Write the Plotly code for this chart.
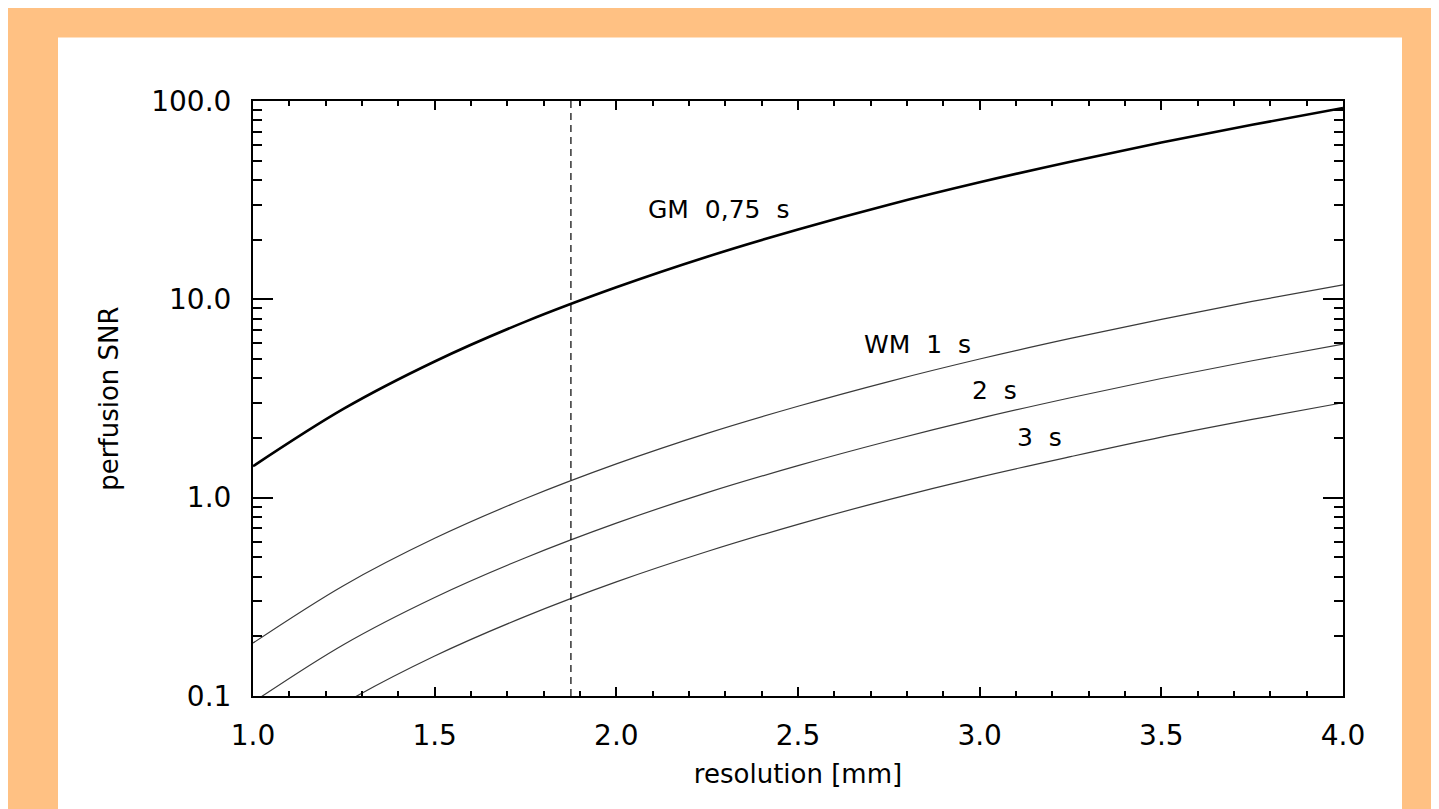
import math
import plotly.graph_objects as go

# ---- data ----
resolution = [1.0, 1.25, 1.5, 1.75, 2.0, 2.25, 2.5, 2.75, 3.0, 3.25, 3.5, 3.75, 4.0]
snr_gm_075 = [1.44, 2.81, 4.86, 7.72, 11.5, 16.4, 22.5, 30.0, 38.9, 49.4, 61.7, 75.9, 92.2]
snr_wm_1 = [0.185, 0.361, 0.624, 0.99, 1.48, 2.11, 2.89, 3.85, 5.0, 6.35, 7.93, 9.76, 11.84]
snr_wm_2 = [0.093, 0.182, 0.314, 0.498, 0.744, 1.06, 1.45, 1.93, 2.51, 3.19, 3.99, 4.90, 5.95]
snr_wm_3 = [0.047, 0.0918, 0.159, 0.252, 0.376, 0.535, 0.734, 0.978, 1.27, 1.61, 2.02, 2.48, 3.01]

ref_resolution = [1.875, 1.875]
ref_snr = [0.1, 100.0]

x_ticks = [1.0, 1.5, 2.0, 2.5, 3.0, 3.5, 4.0]
x_tick_labels = ["1.0", "1.5", "2.0", "2.5", "3.0", "3.5", "4.0"]
y_ticks = [0.1, 1.0, 10.0, 100.0]
y_tick_labels = ["0.1", "1.0", "10.0", "100.0"]

curve_labels = ["GM  0,75  s", "WM  1  s", "2  s", "3  s"]
curve_label_x = [2.28, 2.83, 3.04, 3.165]
curve_label_y = [28.3, 5.89, 3.49, 2.0]

# ---- figure ----
FONT = "DejaVu Sans"
fig = go.Figure()

thin = dict(color="#3a3a3a", width=1.2, shape="spline")
fig.add_trace(go.Scatter(x=resolution, y=snr_gm_075, mode="lines",
                         line=dict(color="black", width=2.6, shape="spline")))
fig.add_trace(go.Scatter(x=resolution, y=snr_wm_1, mode="lines", line=thin))
fig.add_trace(go.Scatter(x=resolution, y=snr_wm_2, mode="lines", line=thin))
fig.add_trace(go.Scatter(x=resolution, y=snr_wm_3, mode="lines", line=thin))
fig.add_trace(go.Scatter(x=ref_resolution, y=ref_snr, mode="lines",
                         line=dict(color="black", width=1.2, dash="7px,5px")))

for txt, lx, ly in zip(curve_labels, curve_label_x, curve_label_y):
    fig.add_annotation(x=lx, y=math.log10(ly), xref="x", yref="y", text=txt,
                       showarrow=False, font=dict(family=FONT, size=25, color="black"))

x_minor = [round(1.0 + 0.1 * i, 1) for i in range(31)]
y_minor = [m * 10 ** e for e in (-1, 0, 1) for m in range(2, 10)]

# the page adds an 8px body margin; size the figure to fill the rest of the window
W, H = 1431, 801
ML, MR, MT, MB = 245, 96, 93, 113
PW, PH = W - ML - MR, H - MT - MB

# white panel behind the plot
fig.add_shape(type="rect", xref="paper", yref="paper",
              x0=(50 - ML) / PW, x1=(1394 - ML) / PW,
              y0=-0.4, y1=(H - MB - 29.5) / PH,
              fillcolor="white", line=dict(width=0), layer="below")

axis_common = dict(showline=True, linewidth=2, linecolor="black", mirror="ticks",
                   ticks="inside", tickcolor="black", tickwidth=1.5,
                   showgrid=False, zeroline=False,
                   tickfont=dict(family=FONT, size=28, color="black"),
                   title_font=dict(family=FONT, size=26, color="black"))

fig.update_xaxes(range=[1.0, 4.0], tickmode="array", tickvals=x_ticks, ticktext=x_tick_labels,
                 ticklen=9, ticklabelstandoff=13,
                 minor=dict(tickmode="array", tickvals=x_minor, ticks="inside", ticklen=5,
                            tickwidth=1.5, tickcolor="black", showgrid=False),
                 title=dict(text="resolution [mm]", standoff=14),
                 **axis_common)
fig.update_yaxes(type="log", range=[-1, 2], tickmode="array", tickvals=y_ticks,
                 ticktext=y_tick_labels, ticklen=20, ticklabelstandoff=14,
                 minor=dict(tickmode="array", tickvals=y_minor, ticks="inside", ticklen=9,
                            tickwidth=1.5, tickcolor="black", showgrid=False),
                 title=dict(text="perfusion SNR", standoff=25),
                 **axis_common)

fig.update_layout(width=W, height=H, margin=dict(l=ML, r=MR, t=MT, b=MB, autoexpand=False),
                  paper_bgcolor="#FFC183", plot_bgcolor="white", showlegend=False,
                  font=dict(family=FONT, size=26, color="black"))

fig.write_html("out.html")
